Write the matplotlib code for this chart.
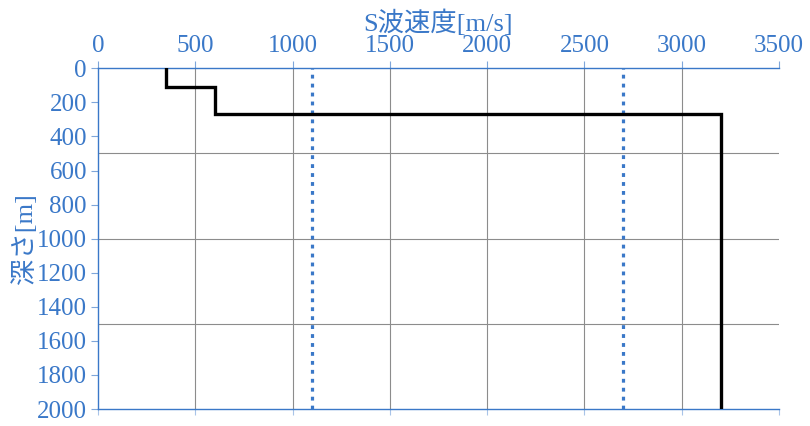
import matplotlib
matplotlib.use("Agg")
import matplotlib.pyplot as plt
from matplotlib.ticker import FixedLocator

# Data
depth_top = [0, 110, 270]
depth_bottom = [110, 270, 2000]
vs = [350, 600, 3200]
ref_vs = [1100, 2700]

xticks = list(range(0, 3501, 500))
yticks = list(range(0, 2001, 200))
xgrid = [500, 1000, 1500, 2000, 2500, 3000]
ygrid = [500, 1000, 1500]

blue = "#3A78C8"
grid_c = "#8C8C8C"
serif = ["Liberation Serif", "Noto Sans CJK JP", "DejaVu Serif"]
jp = ["Liberation Serif", "Noto Sans CJK JP"]

fig = plt.figure(figsize=(8.10, 4.26), dpi=100)
ax = fig.add_axes([98/810, 1-409/426, (779-98)/810, (409-68.3)/426])

# step profile
xs, ys = [], []
for v, t, b in zip(vs, depth_top, depth_bottom):
    xs += [v, v]
    ys += [t, b]
ax.plot(xs, ys, color="black", lw=2.4, solid_joinstyle="miter", zorder=4)

for r in ref_vs:
    ax.axvline(r, color=blue, lw=2.3, linestyle=(0, (1.2, 1.6)), zorder=3)

ax.set_xlim(0, 3500)
ax.set_ylim(2000, 0)

ax.xaxis.tick_top()
ax.xaxis.set_label_position("top")
ax.set_xticks(xticks)
ax.set_yticks(yticks)

ax.xaxis.set_minor_locator(FixedLocator(xgrid))
ax.yaxis.set_minor_locator(FixedLocator(ygrid))
ax.xaxis.remove_overlapping_locs = False
ax.yaxis.remove_overlapping_locs = False
ax.grid(False, which="major")
ax.grid(True, which="minor", color=grid_c, lw=0.8)
ax.tick_params(which="minor", length=0)
ax.set_axisbelow(True)

ax.spines["right"].set_visible(False)
for s in ["top", "left", "bottom"]:
    ax.spines[s].set_color(blue)
    ax.spines[s].set_linewidth(1.0)

ax.tick_params(axis="both", which="major", colors="#7FA6DA", length=5, width=0.8,
               labelsize=18, pad=3)
for lab in ax.get_xticklabels() + ax.get_yticklabels():
    lab.set_family(serif)
    lab.set_color(blue)

# bottom tick marks without labels
sec = ax.secondary_xaxis("bottom")
sec.set_xticks(xticks)
sec.set_xticklabels([])
sec.tick_params(colors="#A9C4E8", length=4, width=0.8)
sec.spines["bottom"].set_visible(False)

ax.set_xlabel("S波速度[m/s]", family=jp, fontsize=19, color=blue, labelpad=3)
ax.set_ylabel("深さ[m]", family=jp, fontsize=19, color=blue, labelpad=0)

fig.savefig("out.png", dpi=100, facecolor="white")
